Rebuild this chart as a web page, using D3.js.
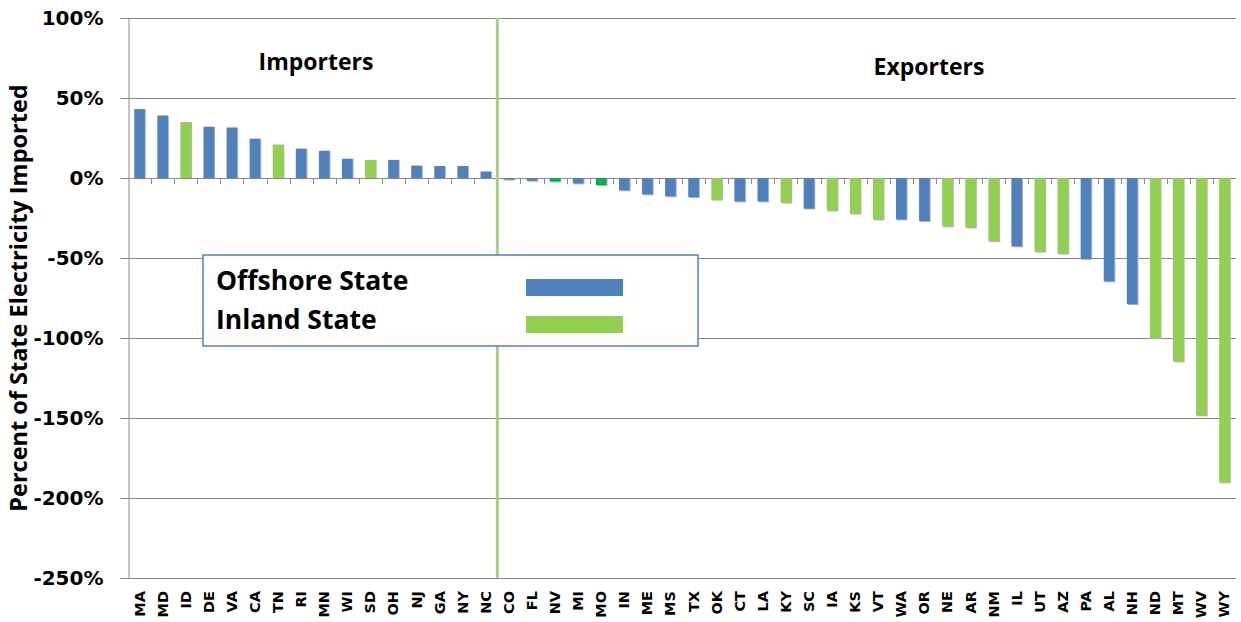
<!DOCTYPE html>
<html>
<head>
<meta charset="utf-8">
<script src="https://cdn.jsdelivr.net/npm/d3@7"></script>
<style>
  body { margin: 0; background: #fff; }
  svg { display: block; }
  .tick-label { font-family: "DejaVu Sans", Verdana, sans-serif; font-weight: bold; }
  .title { font-family: "Open Sans", Lato, sans-serif; font-weight: bold; fill: #000; }
</style>
</head>
<body>
<svg width="1241" height="622"></svg>
<script>
'use strict';

// states, sorted as in the original chart
const states = ["MA","MD","ID","DE","VA","CA","TN","RI","MN","WI","SD","OH","NJ","GA","NY","NC",
  "CO","FL","NV","MI","MO","IN","ME","MS","TX","OK","CT","LA","KY","SC","IA","KS",
  "VT","WA","OR","NE","AR","NM","IL","UT","AZ","PA","AL","NH","ND","MT","WV","WY"];

// percent of state electricity imported
const imported = [43, 39, 35, 32, 31.5, 24.5, 20.8, 18.3, 17, 12, 11.3, 11.3, 7.7, 7.5, 7.5, 4,
  -1, -1.7, -2.2, -3.4, -4.4, -7.7, -10.2, -11.4, -11.9, -13.5, -14.6, -14.6, -15.4, -19.1, -20.3, -22.2,
  -25.9, -25.9, -26.9, -30.2, -30.9, -39.4, -42.7, -46, -47.2, -50.6, -64.6, -78.8, -100, -114.6, -148.3, -190.2];

// o = offshore, i = inland, d = inland (darker shade in original)
const stateType = ["o","o","i","o","o","o","i","o","o","o","i","o","o","o","o","o",
  "o","o","d","o","d","o","o","o","o","i","o","o","i","o","i","i",
  "i","o","o","i","i","i","o","i","i","o","o","o","i","i","i","i"];

const yTicks = [100, 50, 0, -50, -100, -150, -200, -250];
const legendLabels = ["Offshore State", "Inland State"];
const groupLabels = ["Importers", "Exporters"];

const COLORS = { o: "#4F81BD", i: "#92D050", d: "#00B050" };

const plot = { left: 128, right: 1236, top: 18, bottom: 578 };

const svg = d3.select("svg");

const x = d3.scaleBand()
  .domain(states)
  .range([plot.left, plot.right])
  .padding(0);

const y = d3.scaleLinear()
  .domain([-250, 100])
  .range([plot.bottom, plot.top]);

const barW = x.bandwidth() * 0.46;

// gridlines
svg.append("g")
  .selectAll("line")
  .data(yTicks)
  .enter()
  .append("line")
  .attr("x1", plot.left)
  .attr("x2", plot.right)
  .attr("y1", d => Math.round(y(d)) + 0.5)
  .attr("y2", d => Math.round(y(d)) + 0.5)
  .attr("stroke", "#8a8a8a")
  .attr("stroke-width", 1);

// y axis
const yAxis = svg.append("g")
  .attr("transform", `translate(${plot.left + 0.5},0)`)
  .call(d3.axisLeft(y).tickValues(yTicks).tickSize(8).tickPadding(17).tickFormat(d => d + "%"));
yAxis.select(".domain").attr("stroke", "#8a8a8a");
yAxis.selectAll(".tick line").attr("stroke", "#8a8a8a");
yAxis.selectAll(".tick text")
  .attr("class", "tick-label")
  .style("font-size", "20px")
  .attr("fill", "#000");

// category tick marks along the zero line
svg.append("g")
  .selectAll("line")
  .data(states.slice(1))
  .enter()
  .append("line")
  .attr("x1", d => Math.round(x(d)) + 0.5)
  .attr("x2", d => Math.round(x(d)) + 0.5)
  .attr("y1", y(0))
  .attr("y2", y(0) + 6)
  .attr("stroke", "#8a8a8a");

// bars with light shadow
const bars = svg.append("g");
bars.selectAll(".shadow")
  .data(states)
  .enter()
  .append("rect")
  .attr("class", "shadow")
  .attr("x", d => x(d) + (x.bandwidth() - barW) / 2 + 1)
  .attr("y", (d, i) => Math.min(y(0), y(imported[i])) + (imported[i] < 0 ? 1 : 0))
  .attr("width", barW)
  .attr("height", (d, i) => Math.abs(y(imported[i]) - y(0)))
  .attr("fill", "#b4b4b4");

bars.selectAll(".bar")
  .data(states)
  .enter()
  .append("rect")
  .attr("class", "bar")
  .attr("x", d => x(d) + (x.bandwidth() - barW) / 2)
  .attr("y", (d, i) => Math.min(y(0), y(imported[i])))
  .attr("width", barW)
  .attr("height", (d, i) => Math.abs(y(imported[i]) - y(0)))
  .attr("fill", (d, i) => COLORS[stateType[i]]);

// x labels (rotated)
svg.append("g")
  .selectAll("text")
  .data(states)
  .enter()
  .append("text")
  .attr("class", "tick-label")
  .attr("transform", d => `translate(${x(d) + x.bandwidth() / 2 + 5},${plot.bottom + 13}) rotate(-90)`)
  .attr("text-anchor", "end")
  .style("font-size", "14.5px")
  .text(d => d);

// divider between importers and exporters
const divX = x("CO");
svg.append("line")
  .attr("x1", divX).attr("x2", divX)
  .attr("y1", plot.top).attr("y2", plot.bottom)
  .attr("stroke", "#a9cf86")
  .attr("stroke-width", 3);

// group labels
svg.append("text").attr("class", "title")
  .attr("x", 316).attr("y", 70)
  .attr("text-anchor", "middle").style("font-size", "23px")
  .text(groupLabels[0]);
svg.append("text").attr("class", "title")
  .attr("x", 929).attr("y", 75)
  .attr("text-anchor", "middle").style("font-size", "23px")
  .text(groupLabels[1]);

// y axis title
svg.append("text").attr("class", "title")
  .attr("transform", `translate(27,${(plot.top + plot.bottom) / 2}) rotate(-90)`)
  .attr("text-anchor", "middle").style("font-size", "23.5px")
  .text("Percent of State Electricity Imported");

// legend
const legend = svg.append("g").attr("transform", "translate(203,255)");
legend.append("rect")
  .attr("width", 495).attr("height", 91)
  .attr("fill", "#fff")
  .attr("stroke", "#4F81BD").attr("stroke-width", 1.5);
legendLabels.forEach((lab, i) => {
  legend.append("text").attr("class", "title")
    .attr("x", 13).attr("y", 35 + i * 39)
    .style("font-size", "26.5px")
    .text(lab);
  legend.append("rect")
    .attr("x", 323).attr("y", 24 + i * 37)
    .attr("width", 97).attr("height", 17)
    .attr("fill", i === 0 ? COLORS.o : COLORS.i);
});
</script>
</body>
</html>
